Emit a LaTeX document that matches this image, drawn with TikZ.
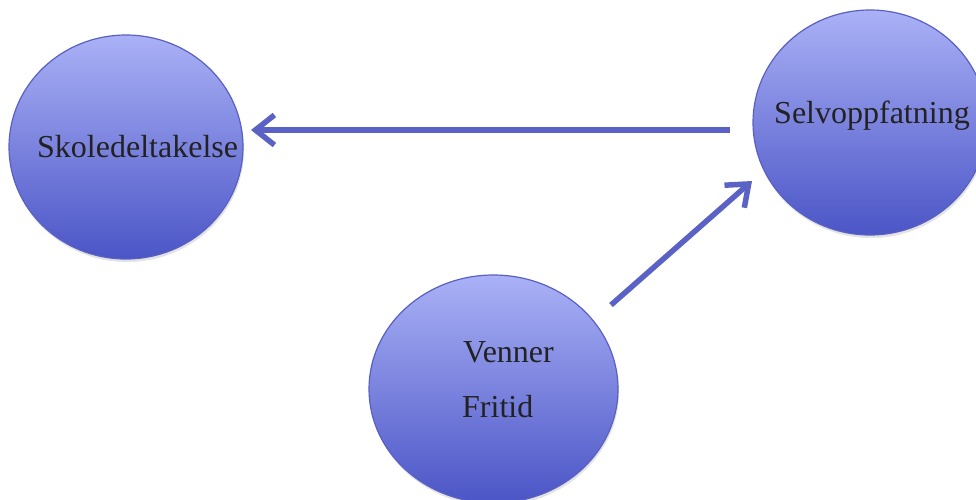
\documentclass[tikz,border=0pt]{standalone}
\usepackage{fontspec}
\setmainfont{Liberation Serif}
\usetikzlibrary{shapes.geometric,arrows.meta,shadows}
\definecolor{bubtop}{HTML}{AAB1F6}
\definecolor{bubbot}{HTML}{4B55C6}
\definecolor{bubline}{HTML}{5860C4}
\definecolor{arrcol}{HTML}{5B62C6}
\definecolor{txtcol}{HTML}{222222}
\tikzset{
  bubble/.style={ellipse, inner sep=0pt, draw=bubline, line width=1.2pt,
    top color=bubtop, bottom color=bubbot,
    drop shadow={opacity=0.22, shadow xshift=1pt, shadow yshift=-3pt}},
  lbl/.style={anchor=base west, inner sep=0pt, text=txtcol,
    font=\fontsize{32}{38}\selectfont},
  arr/.style={draw=arrcol, line width=5.5pt,
    -{Straight Barb[length=19pt, width=30pt, line width=5.5pt]}}
}
\begin{document}
\begin{tikzpicture}[x=1pt, y=-1pt]
\useasboundingbox (0,0) rectangle (976,499);
\clip (0,0) rectangle (976,499);
\fill[white] (0,0) rectangle (976,499);
\node[bubble, minimum width=234pt, minimum height=224pt] (A) at (126,147) {};
\node[bubble, minimum width=234pt, minimum height=225pt] (B) at (870,122.5) {};
\node[bubble, minimum width=249pt, minimum height=228pt] (C) at (493.5,389) {};
\node[lbl] (tA) at (37,157) {Skoledeltakelse};
\node[lbl] (tB) at (774,123) {Selvoppfatning};
\node[lbl] (tC1) at (463,362) {Venner};
\node[lbl] (tC2) at (462,417) {Fritid};
\coordinate (s1) at (730,130);
\coordinate (e1) at (251,130);
\coordinate (s2) at (611,305);
\coordinate (e2) at (752,181);
\draw[arr] (s1) -- (e1);
\draw[arr] (s2) -- (e2);
\end{tikzpicture}
\end{document}
